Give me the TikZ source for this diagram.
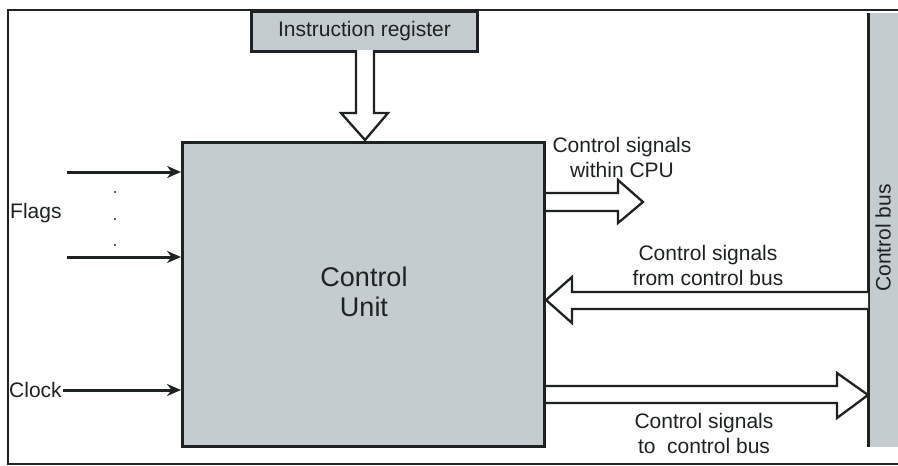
\documentclass[tikz,border=0pt]{standalone}
\usepackage{fontspec}
\setmainfont{Liberation Sans}
\usetikzlibrary{arrows.meta,calc}
\definecolor{boxgray}{RGB}{196,204,208}
\definecolor{ink}{RGB}{30,34,34}
\begin{document}
\begin{tikzpicture}[x=1pt,y=-1pt,
  lbl/.style={font=\fontsize{21}{25}\selectfont, text=ink, inner sep=0pt, align=center},
  biglbl/.style={font=\fontsize{27}{30}\selectfont, text=ink, inner sep=0pt, align=center},
  blk/.style={draw=ink, line width=3pt, fill=boxgray, inner sep=0pt, anchor=north west},
  hollow/.style={draw=ink, line width=2.3pt, fill=white, line join=miter},
  sig/.style={draw=ink, line width=3pt, -{Stealth[length=14pt,width=12pt]}}]
\useasboundingbox (0,0) rectangle (898,466);
% frame
\draw[ink, line width=1.6pt] (898,10) -- (8,10) -- (8,464) -- (898,464);
% control bus bar
\node[fill=boxgray, inner sep=0pt, anchor=north west, minimum width=30pt, minimum height=434pt] (bus) at (868,13) {};
\draw[ink, line width=3pt] (bus.north west) -- (bus.south west);
\node[lbl, rotate=90] (busl) at (883,238) {Control bus};
% instruction register
\node[blk, lbl, draw=ink, line width=3pt, fill=boxgray, minimum width=226pt, minimum height=40pt] (ir) at (250,10) {Instruction register};
% control unit
\node[blk, minimum width=362pt, minimum height=304pt] (cu) at (181,141) {};
\node[biglbl] (cul) at (364,292) {Control\\Unit};
% IR -> CU hollow arrow
\draw[hollow] (356,50) -- (356,113) -- (341,113) -- (365,140) -- (388,113) -- (374,113) -- (374,50);
% within CPU
\draw[hollow] (cu.east |- 0,193) -- (618,193) -- (618,180) -- (643,202) -- (618,223) -- (618,211) -- (cu.east |- 0,211);
\node[lbl] (l1) at (622,157) {Control signals\\within CPU};
% from control bus
\draw[hollow] (bus.west |- 0,292) -- (572,292) -- (572,277) -- (cu.east |- 0,300) -- (572,323) -- (572,309) -- (bus.west |- 0,309);
\node[lbl] (l2) at (708,265) {Control signals\\from control bus};
% to control bus
\draw[hollow] (cu.east |- 0,386) -- (837,386) -- (837,373) -- (bus.west |- 0,395) -- (837,418) -- (837,403) -- (cu.east |- 0,403);
\node[lbl] (l3) at (704,433) {Control signals\\to~ control bus};
% flags
\coordinate (f1) at (67,172);
\coordinate (f2) at (67,257);
\draw[sig] (f1) -- (f1 -| cu.west);
\draw[sig] (f2) -- (f2 -| cu.west);
\fill[ink] (115,192) circle (1.2pt) (115,219) circle (1.2pt) (115,245) circle (1.2pt);
\node[lbl, anchor=west] (flags) at (10,213) {Flags};
% clock
\node[lbl, anchor=west] (clk) at (9,390) {Clock};
\draw[sig] ([xshift=1pt]clk.east) -- (clk.east -| cu.west);
\end{tikzpicture}
\end{document}
